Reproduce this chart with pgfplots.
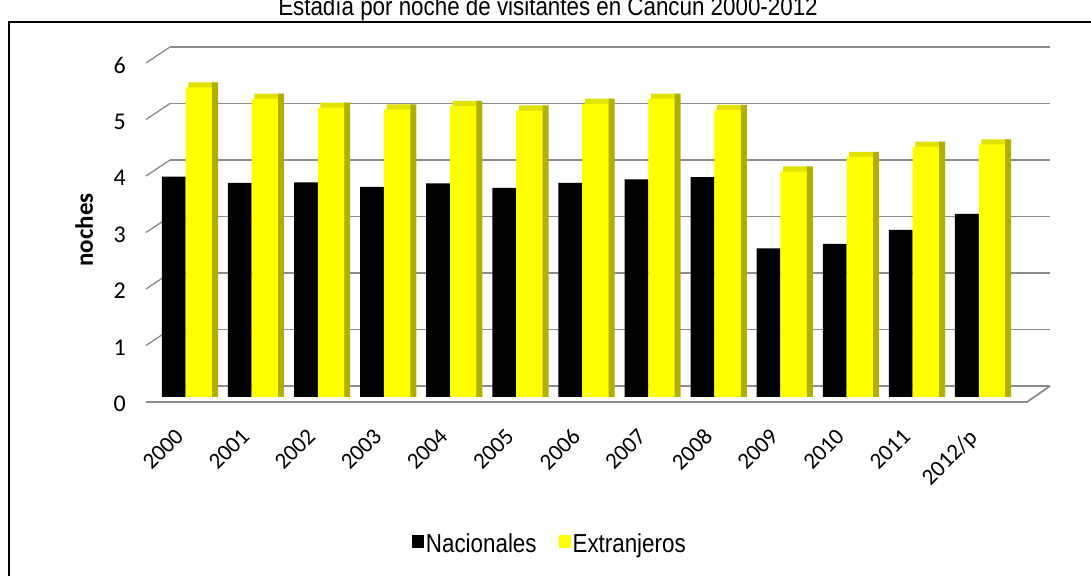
\documentclass[border=0pt]{standalone}
\usepackage{pgfplots}
\usepackage{pgfplotstable}
\pgfplotsset{compat=1.18}
\usepackage{fontspec}
\setmainfont{Carlito}
\newfontfamily\narrowfont[FakeStretch=0.86]{Liberation Sans}
\definecolor{ybarc}{HTML}{FFFF00}
\definecolor{ysidec}{HTML}{B0B000}
\definecolor{ytopc}{HTML}{E2E200}
\definecolor{gridg}{HTML}{8C8C8C}

\pgfplotstableread{
x N E
0 3.90 5.48
1 3.79 5.28
2 3.80 5.12
3 3.72 5.09
4 3.78 5.15
5 3.70 5.07
6 3.79 5.19
7 3.85 5.28
8 3.89 5.08
9 2.63 3.99
10 2.71 4.25
11 2.96 4.43
12 3.24 4.47
}\datatable

\begin{document}
\begin{tikzpicture}[x=1pt,y=1pt]
\useasboundingbox (0,0) rectangle (1091,575);
\draw[line width=1.3pt] (9,-10) rectangle (1110,553);
\node[anchor=base, font=\narrowfont\fontsize{26}{30}\selectfont, inner sep=0pt] at (548,559) {Estadía por noche de visitantes en Cancún 2000-2012};

% back wall with grid lines and floor
\begin{axis}[at={(170pt,189pt)}, anchor=south west, scale only axis,
  width=880pt, height=339pt, xmin=0, xmax=880, ymin=0, ymax=6,
  ytick={0,...,6}, xtick=\empty, yticklabels={},
  ymajorgrids, grid style={gridg, line width=1.6pt},
  axis line style={draw=none}, major tick length=0pt, clip=false]
\addplot[gridg, line width=1.3pt, quiver={u=24, v=0.283}, -] coordinates {
  (-24,0.717) (-24,1.717) (-24,2.717) (-24,3.717) (-24,4.717) (-24,5.717)};
\addplot[gridg, line width=1.8pt] coordinates {(-24,-0.283) (857,-0.283) (880,0)};
\end{axis}

% bars
\begin{axis}[at={(145pt,173pt)}, anchor=south west, scale only axis,
  width=882pt, height=344pt, xmin=-0.635, xmax=12.71, ymin=-0.0885, ymax=6,
  ytick={0,...,6}, xtick={0,...,12},
  xticklabels={2000,2001,2002,2003,2004,2005,2006,2007,2008,2009,2010,2011,2012/p},
  axis line style={draw=none}, major tick length=0pt,
  /pgf/number format/assume math mode=true,
  yticklabel style={font=\fontsize{24}{28}\selectfont, anchor=east, inner sep=0pt, xshift=-19pt, yshift=-7pt},
  xticklabel style={font=\fontsize{23}{27}\selectfont, anchor=north east, inner sep=0pt, xshift=-13pt, yshift=-25pt, rotate=45},
  ylabel={\fontsize{25}{28}\selectfont\bfseries noches},
  ylabel style={at={(axis description cs:-0.069,0.5)}, anchor=center},
  ybar,
  legend columns=2,
  legend style={draw=none, fill=none, at={(axis description cs:0.459,-0.413)}, anchor=center,
    font=\narrowfont\fontsize{26}{30}\selectfont,
    nodes={inner xsep=2pt},
    /tikz/every even column/.append style={column sep=20pt}},
  legend image code/.code={\fill[#1] (0pt,-4pt) rectangle (12pt,9pt);},
]
\addplot[forget plot, fill=ytopc, draw=none, bar width=0.40, bar shift=0.22] table[x=x, y expr=\thisrow{E}+0.09] {\datatable};
\addplot[fill=black, draw=none, bar width=0.36, bar shift=-0.2] table[x=x, y=N] {\datatable};
\addlegendentry{Nacionales}
\addplot[fill=ybarc, draw=none, bar width=0.40, bar shift=0.18] table[x=x, y=E] {\datatable};
\addlegendentry{Extranjeros}
\addplot[forget plot, fill=ysidec, draw=none, bar width=0.09, bar shift=0.425] table[x=x, y expr=\thisrow{E}+0.09] {\datatable};
\end{axis}
\end{tikzpicture}
\end{document}
